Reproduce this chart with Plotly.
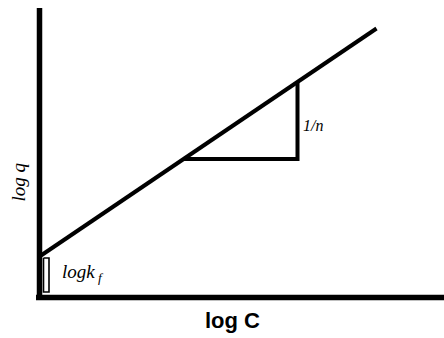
import plotly.graph_objects as go

# Freundlich isotherm, linear form: log q = log kf + (1/n) log C
log_c = [0, 337]
log_q = [41, 269]

# slope triangle (run and rise) on the isotherm line
tri_x = [144, 258, 258]
tri_y = [138.5, 138.5, 215.7]

# intercept bracket marking log kf
brk_x = [4, 9.5, 9.5, 4, 4]
brk_y = [39.5, 39.5, 5.5, 5.5, 39.5]

# coordinate axes
vaxis_x = [0, 0]
vaxis_y = [-2.5, 289.5]
haxis_x = [-3.5, 404.5]
haxis_y = [0, 0]

serif = "Liberation Serif, DejaVu Serif, serif"
black = "black"

fig = go.Figure()
fig.add_trace(go.Scatter(x=vaxis_x, y=vaxis_y, mode="lines",
                         line=dict(color=black, width=5.5)))
fig.add_trace(go.Scatter(x=haxis_x, y=haxis_y, mode="lines",
                         line=dict(color=black, width=5.5)))
fig.add_trace(go.Scatter(x=log_c, y=log_q, mode="lines",
                         line=dict(color=black, width=4)))
fig.add_trace(go.Scatter(x=tri_x, y=tri_y, mode="lines",
                         line=dict(color=black, width=4)))
fig.add_trace(go.Scatter(x=brk_x, y=brk_y, mode="lines",
                         line=dict(color=black, width=1.6)))

fig.add_annotation(x=-21.5, y=115, text="<i>log q</i>", textangle=-90,
                   showarrow=False, xanchor="center", yanchor="middle",
                   font=dict(family=serif, size=19, color=black))
fig.add_annotation(x=20, y=25, text="<i>logk<sub> f</sub></i>",
                   showarrow=False, xanchor="left", yanchor="middle",
                   font=dict(family=serif, size=19, color=black))
fig.add_annotation(x=261, y=172, text="<i>1/n</i>",
                   showarrow=False, xanchor="left", yanchor="middle",
                   font=dict(family=serif, size=16, color=black))
fig.add_annotation(x=193, y=-22.5, text="<b>log C</b>",
                   showarrow=False, xanchor="center", yanchor="middle",
                   font=dict(family="Liberation Sans, Arial, sans-serif",
                             size=22, color=black))

fig.update_layout(
    width=444, height=338,
    margin=dict(l=0, r=0, t=0, b=0),
    paper_bgcolor="white", plot_bgcolor="white",
    showlegend=False,
    xaxis=dict(range=[-39.5, 404.5], visible=False, fixedrange=True),
    yaxis=dict(range=[-40.5, 297.5], visible=False, fixedrange=True),
)

fig.write_html("out.html", config={"displayModeBar": False})
